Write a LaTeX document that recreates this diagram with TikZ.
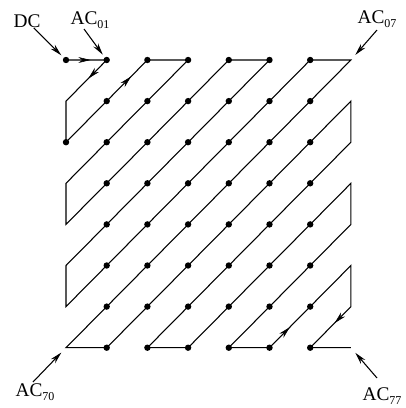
\documentclass[tikz,border=0pt]{standalone}
\usepackage{fontspec}
\setmainfont{Liberation Serif}
\usetikzlibrary{arrows.meta,decorations.markings}

\newcommand{\acsub}[1]{AC\raisebox{-0.45ex}{\fontsize{9}{9}\selectfont #1}}

\tikzset{
  zig/.style={line width=0.8pt, line join=miter},
  ptr/.style={line width=0.8pt, -{Stealth[length=9pt,width=4.4pt]}, shorten >=5pt},
  lbl/.style={font=\fontsize{14.5}{16}\selectfont, inner sep=0pt},
  dot/.style={fill=black},
  midarrow/.style={postaction={decorate}, decoration={markings,
      mark=at position #1 with {\arrow{Stealth[length=9pt,width=4.4pt]}}}},
}

\begin{document}
\begin{tikzpicture}[x=0.75pt, y=-0.75pt]
\useasboundingbox (0,0) rectangle (406,408);

% ── 8x8 coefficient grid ──
\foreach \i in {0,...,7}
  \foreach \j in {0,...,7}
    \coordinate (p\i\j) at ({66+40.7*\i}, {60+41.1*\j});

% ── coefficient dots ──
\foreach \j in {0,...,7}
  \foreach \i in {1,...,6}
    \fill[dot] (p\i\j) circle[radius=2.4pt];
\fill[dot] (p00) circle[radius=2.4pt];
\fill[dot] (p02) circle[radius=2.4pt];

% ── zigzag scan ──
\draw[zig] (p00) -- (p10) -- (p01) -- (p02) -- (p20) -- (p30) -- (p03) -- (p04)
  -- (p40) -- (p50) -- (p05) -- (p06) -- (p60) -- (p70) -- (p07) -- (p17)
  -- (p71) -- (p72) -- (p27) -- (p37) -- (p73) -- (p74) -- (p47) -- (p57)
  -- (p75) -- (p76) -- (p67) -- (p77);

% direction marks
\path[midarrow=0.6] (p00) -- (p10);
\path[midarrow=0.45] (p10) -- (p01);
\path[midarrow=0.8] (p02) -- (p20);
\path[midarrow=0.25] (p57) -- (p75);
\path[midarrow=0.4] (p76) -- (p67);

% ── labels ──
\node[lbl] (dc)   at (27,21)  {DC};
\node[lbl] (ac01) at (90,20)  {\acsub{01}};
\node[lbl] (ac07) at (377,19) {\acsub{07}};
\node[lbl] (ac70) at (35,392) {\acsub{70}};
\node[lbl] (ac77) at (382,396) {\acsub{77}};

\coordinate (t01) at (84,29);
\coordinate (t07) at (377,30);
\coordinate (t70) at (33,382);
\coordinate (t77) at (377,378);

\draw[ptr] (dc) -- (p00);
\draw[ptr] (t01) -- (p10);
\draw[ptr] (t07) -- (p70);
\draw[ptr] (t70) -- (p07);
\draw[ptr] (t77) -- (p77);

\end{tikzpicture}
\end{document}
